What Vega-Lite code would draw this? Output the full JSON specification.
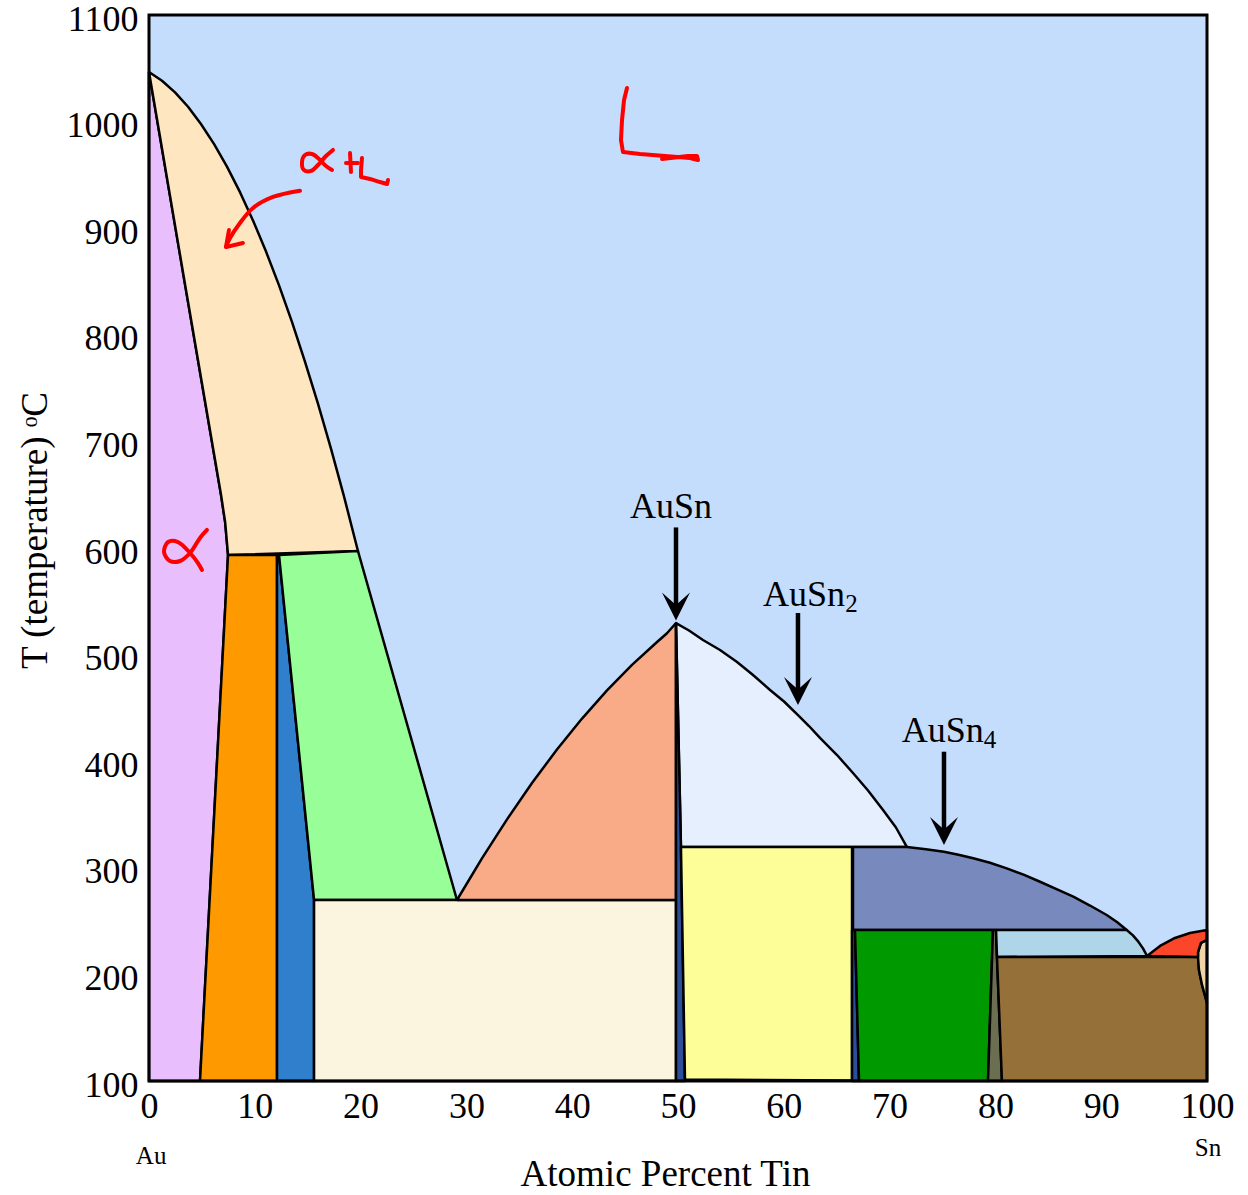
{
  "$schema": "https://vega.github.io/schema/vega-lite/v6.json",
  "width": 1058,
  "height": 1066,
  "autosize": {"type": "none"},
  "padding": {"left": 149, "top": 15, "right": 41, "bottom": 114},
  "background": "white",
  "config": {
    "view": {"stroke": null},
    "font": "Liberation Serif",
    "axis": {
      "labelFont": "Liberation Serif",
      "titleFont": "Liberation Serif",
      "labelColor": "black",
      "titleColor": "black",
      "titleFontWeight": "normal",
      "labelFontSize": 36,
      "titleFontSize": 37,
      "ticks": false,
      "grid": false,
      "domain": false,
      "labelFlush": false,
      "labelOverlap": false,
      "format": "d"
    }
  },
  "datasets": {
    "phases": [
      {"r": "L", "i": 0, "x": 0, "t": 100},
      {"r": "L", "i": 1, "x": 0, "t": 1100},
      {"r": "L", "i": 2, "x": 100, "t": 1100},
      {"r": "L", "i": 3, "x": 100, "t": 100},
      {"r": "L", "i": 4, "x": 0, "t": 100},

      {"r": "alpha", "i": 0, "x": 0, "t": 1046.5},
      {"r": "alpha", "i": 1, "x": 3.40, "t": 847.7},
      {"r": "alpha", "i": 2, "x": 6.81, "t": 649.7},
      {"r": "alpha", "i": 3, "x": 7.20, "t": 624.0},
      {"r": "alpha", "i": 4, "x": 7.47, "t": 593.4},
      {"r": "alpha", "i": 5, "x": 4.82, "t": 100},
      {"r": "alpha", "i": 6, "x": 0, "t": 100},
      {"r": "alpha", "i": 7, "x": 0, "t": 1046.5},

      {"r": "alphaL", "i": 0, "x": 0, "t": 1046.5},
      {"r": "alphaL", "i": 1, "x": 1.23, "t": 1038.3},
      {"r": "alphaL", "i": 2, "x": 2.46, "t": 1027.4},
      {"r": "alphaL", "i": 3, "x": 3.69, "t": 1013.9},
      {"r": "alphaL", "i": 4, "x": 4.91, "t": 997.7},
      {"r": "alphaL", "i": 5, "x": 6.14, "t": 979.1},
      {"r": "alphaL", "i": 6, "x": 7.37, "t": 957.8},
      {"r": "alphaL", "i": 7, "x": 8.60, "t": 933.8},
      {"r": "alphaL", "i": 8, "x": 9.83, "t": 907.3},
      {"r": "alphaL", "i": 9, "x": 11.06, "t": 878.1},
      {"r": "alphaL", "i": 10, "x": 12.29, "t": 846.4},
      {"r": "alphaL", "i": 11, "x": 13.52, "t": 811.9},
      {"r": "alphaL", "i": 12, "x": 14.74, "t": 774.9},
      {"r": "alphaL", "i": 13, "x": 15.97, "t": 735.5},
      {"r": "alphaL", "i": 14, "x": 17.20, "t": 693.2},
      {"r": "alphaL", "i": 15, "x": 18.43, "t": 648.4},
      {"r": "alphaL", "i": 16, "x": 19.75, "t": 597.2},
      {"r": "alphaL", "i": 17, "x": 7.47, "t": 593.4},
      {"r": "alphaL", "i": 18, "x": 7.20, "t": 624.0},
      {"r": "alphaL", "i": 19, "x": 6.81, "t": 649.7},
      {"r": "alphaL", "i": 20, "x": 3.40, "t": 847.7},
      {"r": "alphaL", "i": 21, "x": 0, "t": 1046.5},

      {"r": "orange", "i": 0, "x": 7.47, "t": 593.4},
      {"r": "orange", "i": 1, "x": 12.10, "t": 593.4},
      {"r": "orange", "i": 2, "x": 12.10, "t": 100},
      {"r": "orange", "i": 3, "x": 4.82, "t": 100},
      {"r": "orange", "i": 4, "x": 7.47, "t": 593.4},

      {"r": "blue", "i": 0, "x": 12.10, "t": 593.4},
      {"r": "blue", "i": 1, "x": 12.29, "t": 593.4},
      {"r": "blue", "i": 2, "x": 15.60, "t": 269.8},
      {"r": "blue", "i": 3, "x": 15.60, "t": 100},
      {"r": "blue", "i": 4, "x": 12.10, "t": 100},
      {"r": "blue", "i": 5, "x": 12.10, "t": 593.4},

      {"r": "green", "i": 0, "x": 12.29, "t": 593.4},
      {"r": "green", "i": 1, "x": 19.75, "t": 597.2},
      {"r": "green", "i": 2, "x": 29.11, "t": 269.8},
      {"r": "green", "i": 3, "x": 15.60, "t": 269.8},
      {"r": "green", "i": 4, "x": 12.29, "t": 593.4},

      {"r": "cream", "i": 0, "x": 15.60, "t": 269.8},
      {"r": "cream", "i": 1, "x": 49.81, "t": 269.8},
      {"r": "cream", "i": 2, "x": 49.81, "t": 100},
      {"r": "cream", "i": 3, "x": 15.60, "t": 100},
      {"r": "cream", "i": 4, "x": 15.60, "t": 269.8},

      {"r": "salmon", "i": 0, "x": 29.11, "t": 269.8},
      {"r": "salmon", "i": 1, "x": 31.47, "t": 308.9},
      {"r": "salmon", "i": 2, "x": 33.84, "t": 345.4},
      {"r": "salmon", "i": 3, "x": 36.20, "t": 379.5},
      {"r": "salmon", "i": 4, "x": 38.56, "t": 411.0},
      {"r": "salmon", "i": 5, "x": 40.93, "t": 440.0},
      {"r": "salmon", "i": 6, "x": 43.29, "t": 466.4},
      {"r": "salmon", "i": 7, "x": 45.65, "t": 490.4},
      {"r": "salmon", "i": 8, "x": 48.02, "t": 511.8},
      {"r": "salmon", "i": 9, "x": 48.96, "t": 520.0},
      {"r": "salmon", "i": 10, "x": 49.81, "t": 529.6},
      {"r": "salmon", "i": 11, "x": 49.81, "t": 269.8},
      {"r": "salmon", "i": 12, "x": 29.11, "t": 269.8},

      {"r": "lightL", "i": 0, "x": 49.81, "t": 529.6},
      {"r": "lightL", "i": 1, "x": 51.04, "t": 522.6},
      {"r": "lightL", "i": 2, "x": 52.36, "t": 513.7},
      {"r": "lightL", "i": 3, "x": 53.97, "t": 504.3},
      {"r": "lightL", "i": 4, "x": 55.58, "t": 493.1},
      {"r": "lightL", "i": 5, "x": 57.09, "t": 480.9},
      {"r": "lightL", "i": 6, "x": 58.70, "t": 466.8},
      {"r": "lightL", "i": 7, "x": 60.02, "t": 456.0},
      {"r": "lightL", "i": 8, "x": 61.34, "t": 443.3},
      {"r": "lightL", "i": 9, "x": 62.38, "t": 433.0},
      {"r": "lightL", "i": 10, "x": 63.42, "t": 421.8},
      {"r": "lightL", "i": 11, "x": 65.03, "t": 405.8},
      {"r": "lightL", "i": 12, "x": 66.54, "t": 388.9},
      {"r": "lightL", "i": 13, "x": 67.96, "t": 372.5},
      {"r": "lightL", "i": 14, "x": 69.38, "t": 354.2},
      {"r": "lightL", "i": 15, "x": 70.60, "t": 337.8},
      {"r": "lightL", "i": 16, "x": 71.64, "t": 319.5},
      {"r": "lightL", "i": 17, "x": 50.28, "t": 319.5},
      {"r": "lightL", "i": 18, "x": 49.81, "t": 529.6},

      {"r": "navyA", "i": 0, "x": 49.81, "t": 529.6},
      {"r": "navyA", "i": 1, "x": 50.28, "t": 319.5},
      {"r": "navyA", "i": 2, "x": 50.66, "t": 100},
      {"r": "navyA", "i": 3, "x": 49.81, "t": 100},
      {"r": "navyA", "i": 4, "x": 49.81, "t": 529.6},

      {"r": "yellow", "i": 0, "x": 50.28, "t": 319.5},
      {"r": "yellow", "i": 1, "x": 66.45, "t": 319.5},
      {"r": "yellow", "i": 2, "x": 66.45, "t": 100.5},
      {"r": "yellow", "i": 3, "x": 50.66, "t": 101.5},
      {"r": "yellow", "i": 4, "x": 50.28, "t": 319.5},

      {"r": "periwinkle", "i": 0, "x": 66.54, "t": 319.5},
      {"r": "periwinkle", "i": 1, "x": 71.64, "t": 319.5},
      {"r": "periwinkle", "i": 2, "x": 73.44, "t": 317.4},
      {"r": "periwinkle", "i": 3, "x": 75.14, "t": 315.1},
      {"r": "periwinkle", "i": 4, "x": 76.51, "t": 312.2},
      {"r": "periwinkle", "i": 5, "x": 77.91, "t": 308.9},
      {"r": "periwinkle", "i": 6, "x": 79.49, "t": 304.7},
      {"r": "periwinkle", "i": 7, "x": 81.07, "t": 299.5},
      {"r": "periwinkle", "i": 8, "x": 82.66, "t": 293.6},
      {"r": "periwinkle", "i": 9, "x": 84.22, "t": 286.9},
      {"r": "periwinkle", "i": 10, "x": 85.78, "t": 279.9},
      {"r": "periwinkle", "i": 11, "x": 87.36, "t": 272.9},
      {"r": "periwinkle", "i": 12, "x": 88.94, "t": 264.6},
      {"r": "periwinkle", "i": 13, "x": 90.52, "t": 255.7},
      {"r": "periwinkle", "i": 14, "x": 91.49, "t": 249.2},
      {"r": "periwinkle", "i": 15, "x": 92.41, "t": 241.7},
      {"r": "periwinkle", "i": 16, "x": 66.54, "t": 241.7},
      {"r": "periwinkle", "i": 17, "x": 66.54, "t": 319.5},

      {"r": "navyB", "i": 0, "x": 66.45, "t": 241.7},
      {"r": "navyB", "i": 1, "x": 66.73, "t": 241.7},
      {"r": "navyB", "i": 2, "x": 67.11, "t": 100},
      {"r": "navyB", "i": 3, "x": 66.45, "t": 100},
      {"r": "navyB", "i": 4, "x": 66.45, "t": 241.7},

      {"r": "dkgreen", "i": 0, "x": 66.73, "t": 241.7},
      {"r": "dkgreen", "i": 1, "x": 79.77, "t": 241.7},
      {"r": "dkgreen", "i": 2, "x": 79.30, "t": 100},
      {"r": "dkgreen", "i": 3, "x": 67.11, "t": 100},
      {"r": "dkgreen", "i": 4, "x": 66.73, "t": 241.7},

      {"r": "olive", "i": 0, "x": 79.77, "t": 241.7},
      {"r": "olive", "i": 1, "x": 80.06, "t": 241.7},
      {"r": "olive", "i": 2, "x": 80.15, "t": 216.3},
      {"r": "olive", "i": 3, "x": 80.62, "t": 100},
      {"r": "olive", "i": 4, "x": 79.30, "t": 100},
      {"r": "olive", "i": 5, "x": 79.77, "t": 241.7},

      {"r": "ltblue", "i": 0, "x": 80.06, "t": 241.7},
      {"r": "ltblue", "i": 1, "x": 92.41, "t": 241.7},
      {"r": "ltblue", "i": 2, "x": 93.00, "t": 236.6},
      {"r": "ltblue", "i": 3, "x": 93.51, "t": 230.7},
      {"r": "ltblue", "i": 4, "x": 93.95, "t": 224.4},
      {"r": "ltblue", "i": 5, "x": 94.33, "t": 217.3},
      {"r": "ltblue", "i": 6, "x": 80.15, "t": 216.3},
      {"r": "ltblue", "i": 7, "x": 80.06, "t": 241.7},

      {"r": "brown", "i": 0, "x": 80.15, "t": 216.3},
      {"r": "brown", "i": 1, "x": 99.15, "t": 216.3},
      {"r": "brown", "i": 2, "x": 99.24, "t": 204.1},
      {"r": "brown", "i": 3, "x": 99.53, "t": 190.1},
      {"r": "brown", "i": 4, "x": 100, "t": 173.2},
      {"r": "brown", "i": 5, "x": 100, "t": 100},
      {"r": "brown", "i": 6, "x": 80.62, "t": 100},
      {"r": "brown", "i": 7, "x": 80.15, "t": 216.3},

      {"r": "tan", "i": 0, "x": 100, "t": 232.3},
      {"r": "tan", "i": 1, "x": 99.43, "t": 229.5},
      {"r": "tan", "i": 2, "x": 99.15, "t": 221.0},
      {"r": "tan", "i": 3, "x": 99.15, "t": 216.3},
      {"r": "tan", "i": 4, "x": 99.24, "t": 204.1},
      {"r": "tan", "i": 5, "x": 99.53, "t": 190.1},
      {"r": "tan", "i": 6, "x": 100, "t": 173.2},
      {"r": "tan", "i": 7, "x": 100, "t": 232.3},

      {"r": "red", "i": 0, "x": 94.33, "t": 217.3},
      {"r": "red", "i": 1, "x": 95.56, "t": 226.7},
      {"r": "red", "i": 2, "x": 96.97, "t": 234.2},
      {"r": "red", "i": 3, "x": 98.39, "t": 238.8},
      {"r": "red", "i": 4, "x": 100, "t": 241.7},
      {"r": "red", "i": 5, "x": 100, "t": 232.3},
      {"r": "red", "i": 6, "x": 99.43, "t": 229.5},
      {"r": "red", "i": 7, "x": 99.15, "t": 221.0},
      {"r": "red", "i": 8, "x": 99.15, "t": 216.3},
      {"r": "red", "i": 9, "x": 94.33, "t": 217.3}
    ],
    "frame": [{"x": 0, "x2": 100, "t": 100, "t2": 1100}],
    "arrows": [
      {"c": "AuSn", "x": 49.81, "t": 619.3, "t2": 543.3, "tip": 532.0},
      {"c": "AuSn2", "x": 61.34, "t": 539.0, "t2": 466.8, "tip": 452.7},
      {"c": "AuSn4", "x": 75.14, "t": 408.9, "t2": 335.5, "tip": 321.4}
    ],
    "names": [
      {"lab": "AuSn", "x": 45.46, "t": 627.9},
      {"lab": "AuSn", "x": 58.03, "t": 546.0},
      {"lab": "AuSn", "x": 71.14, "t": 418.3}
    ],
    "subs": [
      {"lab": "2", "x": 65.80, "t": 539.6},
      {"lab": "4", "x": 78.90, "t": 412.1}
    ],
    "ends": [
      {"lab": "Au", "x": 0.2, "t": 22.1},
      {"lab": "Sn", "x": 100.1, "t": 29.6}
    ],
    "ink": [
      {"s": "a1", "i": 0, "x": 17.39, "t": 973.4},
      {"s": "a1", "i": 1, "x": 16.73, "t": 967.7},
      {"s": "a1", "i": 2, "x": 15.97, "t": 959.3},
      {"s": "a1", "i": 3, "x": 15.31, "t": 953.7},
      {"s": "a1", "i": 4, "x": 14.65, "t": 954.6},
      {"s": "a1", "i": 5, "x": 14.46, "t": 962.1},
      {"s": "a1", "i": 6, "x": 14.74, "t": 968.7},
      {"s": "a1", "i": 7, "x": 15.41, "t": 969.6},
      {"s": "a1", "i": 8, "x": 16.07, "t": 964.9},
      {"s": "a1", "i": 9, "x": 16.73, "t": 958.3},
      {"s": "a1", "i": 10, "x": 17.30, "t": 954.6},

      {"s": "pv", "i": 0, "x": 19.00, "t": 970.5},
      {"s": "pv", "i": 1, "x": 19.09, "t": 952.7},
      {"s": "ph", "i": 0, "x": 18.62, "t": 961.2},
      {"s": "ph", "i": 1, "x": 19.75, "t": 961.2},

      {"s": "L1", "i": 0, "x": 20.13, "t": 965.9},
      {"s": "L1", "i": 1, "x": 20.04, "t": 954.6},
      {"s": "L1", "i": 2, "x": 20.04, "t": 948.0},
      {"s": "L1", "i": 3, "x": 20.89, "t": 946.2},
      {"s": "L1", "i": 4, "x": 21.83, "t": 943.3},
      {"s": "L1", "i": 5, "x": 22.50, "t": 941.5},
      {"s": "L1", "i": 6, "x": 22.59, "t": 945.2},

      {"s": "arrow", "i": 0, "x": 14.27, "t": 935.2},
      {"s": "arrow", "i": 1, "x": 11.72, "t": 929.3},
      {"s": "arrow", "i": 2, "x": 9.83, "t": 919.0},
      {"s": "arrow", "i": 3, "x": 8.60, "t": 904.9},
      {"s": "arrow", "i": 4, "x": 7.66, "t": 890.8},
      {"s": "arrow", "i": 5, "x": 7.28, "t": 882.4},

      {"s": "head", "i": 0, "x": 7.56, "t": 898.3},
      {"s": "head", "i": 1, "x": 7.28, "t": 882.4},
      {"s": "head", "i": 2, "x": 8.88, "t": 886.1},

      {"s": "a2", "i": 0, "x": 5.48, "t": 616.9},
      {"s": "a2", "i": 1, "x": 4.82, "t": 609.4},
      {"s": "a2", "i": 2, "x": 3.88, "t": 595.3},
      {"s": "a2", "i": 3, "x": 2.93, "t": 587.8},
      {"s": "a2", "i": 4, "x": 1.98, "t": 587.8},
      {"s": "a2", "i": 5, "x": 1.42, "t": 596.3},
      {"s": "a2", "i": 6, "x": 1.80, "t": 605.6},
      {"s": "a2", "i": 7, "x": 2.74, "t": 605.6},
      {"s": "a2", "i": 8, "x": 3.88, "t": 595.3},
      {"s": "a2", "i": 9, "x": 4.63, "t": 585.9},
      {"s": "a2", "i": 10, "x": 5.01, "t": 579.4},

      {"s": "L2", "i": 0, "x": 45.18, "t": 1031.5},
      {"s": "L2", "i": 1, "x": 44.90, "t": 1020.3},
      {"s": "L2", "i": 2, "x": 44.71, "t": 1001.5},
      {"s": "L2", "i": 3, "x": 44.61, "t": 982.7},
      {"s": "L2", "i": 4, "x": 44.80, "t": 971.5},
      {"s": "L2", "i": 5, "x": 46.41, "t": 969.6},
      {"s": "L2", "i": 6, "x": 48.77, "t": 967.7},
      {"s": "L2", "i": 7, "x": 51.13, "t": 965.9},
      {"s": "L2", "i": 8, "x": 51.89, "t": 964.0},
      {"s": "L2", "i": 9, "x": 51.80, "t": 967.7},
      {"s": "L2", "i": 10, "x": 50.95, "t": 967.7},
      {"s": "L2", "i": 11, "x": 48.49, "t": 964.9}
    ]
  },
  "resolve": {"scale": {"fill": "independent"}},
  "layer": [
    {
      "data": {"name": "phases"},
      "transform": [{"filter": "datum.r === 'L'"}],
      "mark": {"type": "line", "fill": "#C5DDFD", "strokeWidth": 0, "clip": false},
      "encoding": {
        "x": {
          "field": "x", "type": "quantitative",
          "scale": {"domain": [0, 100], "nice": false, "zero": false},
          "axis": {
            "title": "Atomic Percent Tin",
            "values": [0, 10, 20, 30, 40, 50, 60, 70, 80, 90, 100],
            "labelPadding": 8,
            "titleX": 516,
            "titleY": 104,
            "titleBaseline": "alphabetic",
            "titleAnchor": null,
            "titleAlign": "center"
          }
        },
        "y": {
          "field": "t", "type": "quantitative",
          "scale": {"domain": [100, 1100], "nice": false, "zero": false},
          "axis": {
            "title": "T (temperature) ᵒC",
            "values": [100, 200, 300, 400, 500, 600, 700, 800, 900, 1000, 1100],
            "labelPadding": 11,
            "labelOffset": 4,
            "titleAngle": -90,
            "titleX": -114,
            "titleY": 515,
            "titleAlign": "center",
            "titleBaseline": "middle"
          }
        },
        "order": {"field": "i", "type": "quantitative"}
      }
    },
    {
      "data": {"name": "phases"},
      "transform": [{"filter": "datum.r !== 'L'"}],
      "mark": {"type": "line", "stroke": "black", "strokeWidth": 2.5, "strokeJoin": "round", "fillOpacity": 1},
      "encoding": {
        "x": {"field": "x", "type": "quantitative"},
        "y": {"field": "t", "type": "quantitative"},
        "order": {"field": "i", "type": "quantitative"},
        "fill": {
          "field": "r", "type": "nominal", "legend": null,
          "scale": {
            "domain": ["alpha", "alphaL", "orange", "blue", "green", "cream", "salmon", "lightL", "navyA", "yellow", "periwinkle", "navyB", "dkgreen", "olive", "ltblue", "brown", "tan", "red"],
            "range": ["#E8BEFD", "#FEE6C1", "#FE9A00", "#2F7FCC", "#98FE98", "#FBF4DF", "#F9AA87", "#E6EFFE", "#2C4F99", "#FEFE98", "#7889BE", "#2C4F99", "#009A00", "#6B6E50", "#AFD5E8", "#967039", "#EFD4A5", "#FC4629"]
          }
        }
      }
    },
    {
      "data": {"name": "frame"},
      "mark": {"type": "rect", "filled": false, "stroke": "black", "strokeWidth": 3},
      "encoding": {
        "x": {"field": "x", "type": "quantitative"},
        "x2": {"field": "x2"},
        "y": {"field": "t", "type": "quantitative"},
        "y2": {"field": "t2"}
      }
    },
    {
      "data": {"name": "arrows"},
      "mark": {"type": "rule", "color": "black", "strokeWidth": 4.5},
      "encoding": {
        "x": {"field": "x", "type": "quantitative"},
        "y": {"field": "t", "type": "quantitative"},
        "y2": {"field": "t2"}
      }
    },
    {
      "data": {"name": "arrows"},
      "mark": {"type": "point", "shape": "M0,0L1,-2L0,-1.1L-1,-2Z", "size": 784, "filled": true, "fill": "black", "strokeWidth": 0, "opacity": 1},
      "encoding": {
        "x": {"field": "x", "type": "quantitative"},
        "y": {"field": "tip", "type": "quantitative"}
      }
    },
    {
      "data": {"name": "names"},
      "mark": {"type": "text", "font": "Liberation Serif", "fontSize": 36, "align": "left", "baseline": "alphabetic", "color": "black"},
      "encoding": {
        "x": {"field": "x", "type": "quantitative"},
        "y": {"field": "t", "type": "quantitative"},
        "text": {"field": "lab"}
      }
    },
    {
      "data": {"name": "subs"},
      "mark": {"type": "text", "font": "Liberation Serif", "fontSize": 25, "align": "left", "baseline": "alphabetic", "color": "black"},
      "encoding": {
        "x": {"field": "x", "type": "quantitative"},
        "y": {"field": "t", "type": "quantitative"},
        "text": {"field": "lab"}
      }
    },
    {
      "data": {"name": "ends"},
      "mark": {"type": "text", "font": "Liberation Serif", "fontSize": 25, "align": "center", "baseline": "alphabetic", "color": "black", "clip": false},
      "encoding": {
        "x": {"field": "x", "type": "quantitative"},
        "y": {"field": "t", "type": "quantitative"},
        "text": {"field": "lab"}
      }
    },
    {
      "data": {"name": "ink"},
      "transform": [{"filter": "indexof(['a1', 'a2', 'arrow'], datum.s) >= 0"}],
      "mark": {"type": "line", "color": "#FF0000", "strokeWidth": 4, "strokeCap": "round", "strokeJoin": "round", "interpolate": "catmull-rom"},
      "encoding": {
        "x": {"field": "x", "type": "quantitative"},
        "y": {"field": "t", "type": "quantitative"},
        "detail": {"field": "s"},
        "order": {"field": "i", "type": "quantitative"}
      }
    },
    {
      "data": {"name": "ink"},
      "transform": [{"filter": "indexof(['a1', 'a2', 'arrow'], datum.s) < 0"}],
      "mark": {"type": "line", "color": "#FF0000", "strokeWidth": 4, "strokeCap": "round", "strokeJoin": "round"},
      "encoding": {
        "x": {"field": "x", "type": "quantitative"},
        "y": {"field": "t", "type": "quantitative"},
        "detail": {"field": "s"},
        "order": {"field": "i", "type": "quantitative"}
      }
    }
  ]
}
